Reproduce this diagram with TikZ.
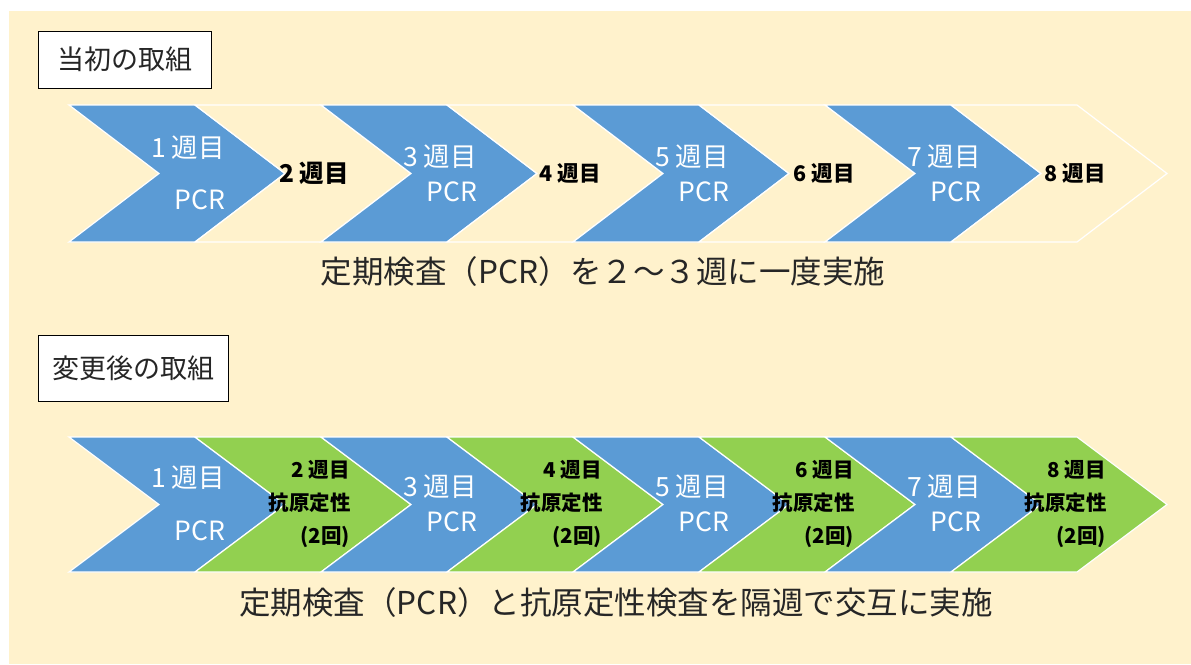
\documentclass[tikz,border=0pt]{standalone}
\usepackage{fontspec}
\setmainfont{Noto Sans CJK JP}
\definecolor{cream}{HTML}{FFF2CC}
\definecolor{cblue}{HTML}{5B9BD5}
\definecolor{cgreen}{HTML}{92D050}
\tikzset{
  chev/.style={draw=white, line width=1.2pt, line join=miter},
  wlab/.style={text=white, font=\fontsize{26.5}{28}\selectfont, inner sep=0pt},
  blab/.style={text=black, font=\fontsize{21.5}{23}\selectfont\bfseries, inner sep=0pt},
  glab/.style={text=black, font=\fontsize{20.5}{22}\selectfont\bfseries, inner sep=0pt, anchor=east},
  captext/.style={text=black!85, font=\fontsize{31.5}{33}\selectfont, inner sep=0pt},
  titlebox/.style={draw=black, line width=0.8pt, fill=white, font=\fontsize{27}{29}\selectfont, text=black!85, inner sep=0pt},
}
\begin{document}
\begin{tikzpicture}[x=1pt,y=-1pt]
\useasboundingbox (0,0) rectangle (1191,664);
\fill[white] (0,0) rectangle (1191,664);
\fill[cream] (9,11) rectangle (1191,664);
% title boxes
\node[titlebox, minimum width=173pt, minimum height=57pt] (t1) at (124.5,59.5) {当初の取組};
\node[titlebox, minimum width=190pt, minimum height=66pt] (t2) at (133,368) {変更後の取組};
% top row
\foreach \i in {0,...,7}{
  \pgfmathsetmacro{\L}{69+126*\i}
  \pgfmathtruncatemacro{\odd}{mod(\i,2)}
  \ifnum\odd=0 \def\fc{cblue}\else\def\fc{cream}\fi
  \filldraw[chev, fill=\fc] (\L,105) -- (\L+126,105) -- (\L+216,173.5) -- (\L+126,242) -- (\L,242) -- (\L+90,173.5) -- cycle;
}
% bottom row
\foreach \i in {0,...,7}{
  \pgfmathsetmacro{\L}{69+126*\i}
  \pgfmathtruncatemacro{\odd}{mod(\i,2)}
  \ifnum\odd=0 \def\fc{cblue}\else\def\fc{cgreen}\fi
  \filldraw[chev, fill=\fc] (\L,437) -- (\L+126,437) -- (\L+216,504.5) -- (\L+126,572) -- (\L,572) -- (\L+90,504.5) -- cycle;
}
% top labels
\node[wlab] (a1w) at (188,148) {1 週目};
\node[wlab] (a1p) at (200,200) {PCR};
\node[wlab] (a3w) at (440,157) {3 週目};
\node[wlab] (a3p) at (452,192) {PCR};
\node[wlab] (a5w) at (692,157) {5 週目};
\node[wlab] (a5p) at (704,192) {PCR};
\node[wlab] (a7w) at (944,157) {7 週目};
\node[wlab] (a7p) at (956,192) {PCR};
\node[blab, font=\fontsize{24.5}{26}\selectfont\bfseries] (a2) at (314,173) {2 週目};
\node[blab] (a4) at (570,173) {4 週目};
\node[blab] (a6) at (824,173) {6 週目};
\node[blab] (a8) at (1075,173) {8 週目};
\node[captext] (c1) at (603,272) {定期検査（PCR）を２～３週に一度実施};
% bottom labels
\node[wlab] (b1w) at (188,478) {1 週目};
\node[wlab] (b1p) at (200,531) {PCR};
\node[wlab] (b3w) at (440,487) {3 週目};
\node[wlab] (b3p) at (452,522) {PCR};
\node[wlab] (b5w) at (692,487) {5 週目};
\node[wlab] (b5p) at (704,522) {PCR};
\node[wlab] (b7w) at (944,487) {7 週目};
\node[wlab] (b7p) at (956,522) {PCR};
\foreach \k/\n in {0/2,1/4,2/6,3/8}{
  \pgfmathsetmacro{\R}{350+252*\k}
  \node[glab] (g\n a) at (\R,470) {\n\ 週目};
  \node[glab] (g\n b) at (\R+1,503) {抗原定性};
  \node[glab] (g\n c) at (\R,537) {(2回)};
}
\node[captext] (c2) at (616,603) {定期検査（PCR）と抗原定性検査を隔週で交互に実施};
\end{tikzpicture}
\end{document}
